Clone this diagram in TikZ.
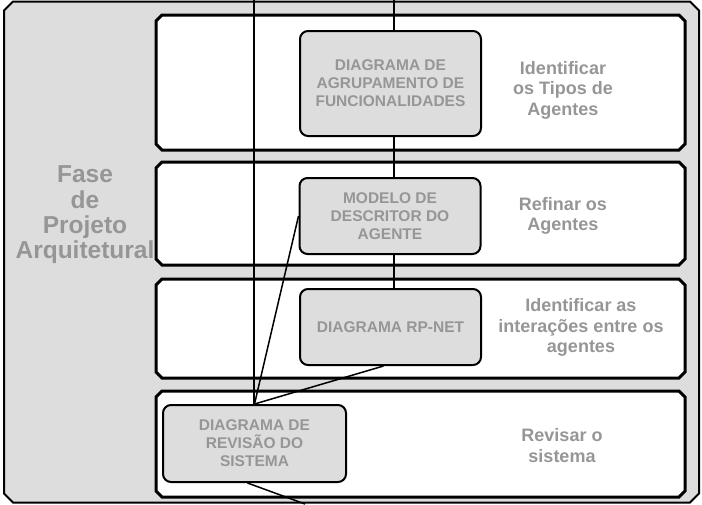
\documentclass[tikz,border=0pt]{standalone}
\usepackage{fontspec}
\setmainfont{Liberation Sans}

\definecolor{panelgray}{RGB}{221,221,221}
\definecolor{labelgray}{RGB}{150,150,150}

\pgfdeclarelayer{back}
\pgfdeclarelayer{wires}
\pgfsetlayers{back,wires,main}

% chamfered outline: [style]{left}{top}{right}{bottom}{cut}
\newcommand\chamferpath[6][]{%
  \draw[#1] (#2+#6,#3) -- (#4-#6,#3) -- (#4,#3+#6) -- (#4,#5-#6)
    -- (#4-#6,#5) -- (#2+#6,#5) -- (#2,#5-#6) -- (#2,#3+#6) -- cycle;}

\tikzset{
  frame/.style={draw=black, line width=2pt, fill=panelgray, line join=miter},
  lane/.style={draw=black, line width=3pt, fill=white, line join=miter},
  artefact/.style={draw=black, line width=2pt, fill=panelgray,
    rounded corners=8pt, minimum width=181pt, inner sep=0pt,
    font=\fontsize{15.5}{18}\selectfont\bfseries, text=labelgray,
    align=center},
  activity/.style={font=\fontsize{18}{20.5}\selectfont\bfseries,
    text=labelgray, align=center, inner sep=0pt},
  phase/.style={font=\fontsize{24.5}{25.3}\selectfont\bfseries,
    text=labelgray, align=center, inner sep=0pt},
  wire/.style={draw=black, line width=1.5pt}
}

\begin{document}
\begin{tikzpicture}[x=1pt, y=-1pt]
\useasboundingbox (0,0) rectangle (702,504);

\begin{pgfonlayer}{back}
  % outer phase frame
  \chamferpath[frame]{4}{1.5}{699}{502.5}{9}
  % activity lanes
  \chamferpath[lane]{156}{15}{685}{150}{6}
  \chamferpath[lane]{156}{162}{685}{265}{6}
  \chamferpath[lane]{156}{279}{685}{378}{6}
  \chamferpath[lane]{156}{391}{685}{497}{6}
\end{pgfonlayer}

% phase title
\node[phase] (titulo) at (85,215) {Fase\\de\\Projeto\\Arquitetural};

% artefacts
\node[artefact, minimum height=105pt] (box1) at (390.5,83.5)
  {DIAGRAMA DE\\AGRUPAMENTO DE\\FUNCIONALIDADES};
\node[artefact, minimum height=76pt] (box2) at (390,216)
  {MODELO DE\\DESCRITOR DO\\AGENTE};
\node[artefact, minimum height=76pt] (box3) at (390.5,327)
  {DIAGRAMA RP-NET};
\node[artefact, minimum height=77pt, minimum width=183pt] (box4) at (254.5,443.5)
  {DIAGRAMA DE\\REVISÃO DO\\SISTEMA};

% activities
\node[activity] (act1) at (563,90)    {Identificar\\os Tipos de\\Agentes};
\node[activity] (act2) at (563,216)   {Refinar os\\Agentes};
\node[activity] (act3) at (581,327.5) {Identificar as\\interações entre os\\agentes};
\node[activity] (act4) at (562,445.5) {Revisar o\\sistema};

% free ends of the connectors
\coordinate (topA) at (254,0);
\coordinate (topB) at (394,0);
\coordinate (fim) at (305,504);

\begin{pgfonlayer}{wires}
  \draw[wire] (topA) -- (topA |- box4.north);
  \draw[wire] (topB) -- (topB |- box1.north);
  \draw[wire] (topB |- box1.south) -- (topB |- box2.north);
  \draw[wire] (topB |- box2.south) -- (topB |- box3.north);
  \draw[wire] (box2.west) -- (box4.north);
  \draw[wire] ([xshift=-7pt]box3.south) -- (box4.north);
  \draw[wire] ([xshift=-7pt]box4.south) -- (fim);
\end{pgfonlayer}
\end{tikzpicture}
\end{document}
